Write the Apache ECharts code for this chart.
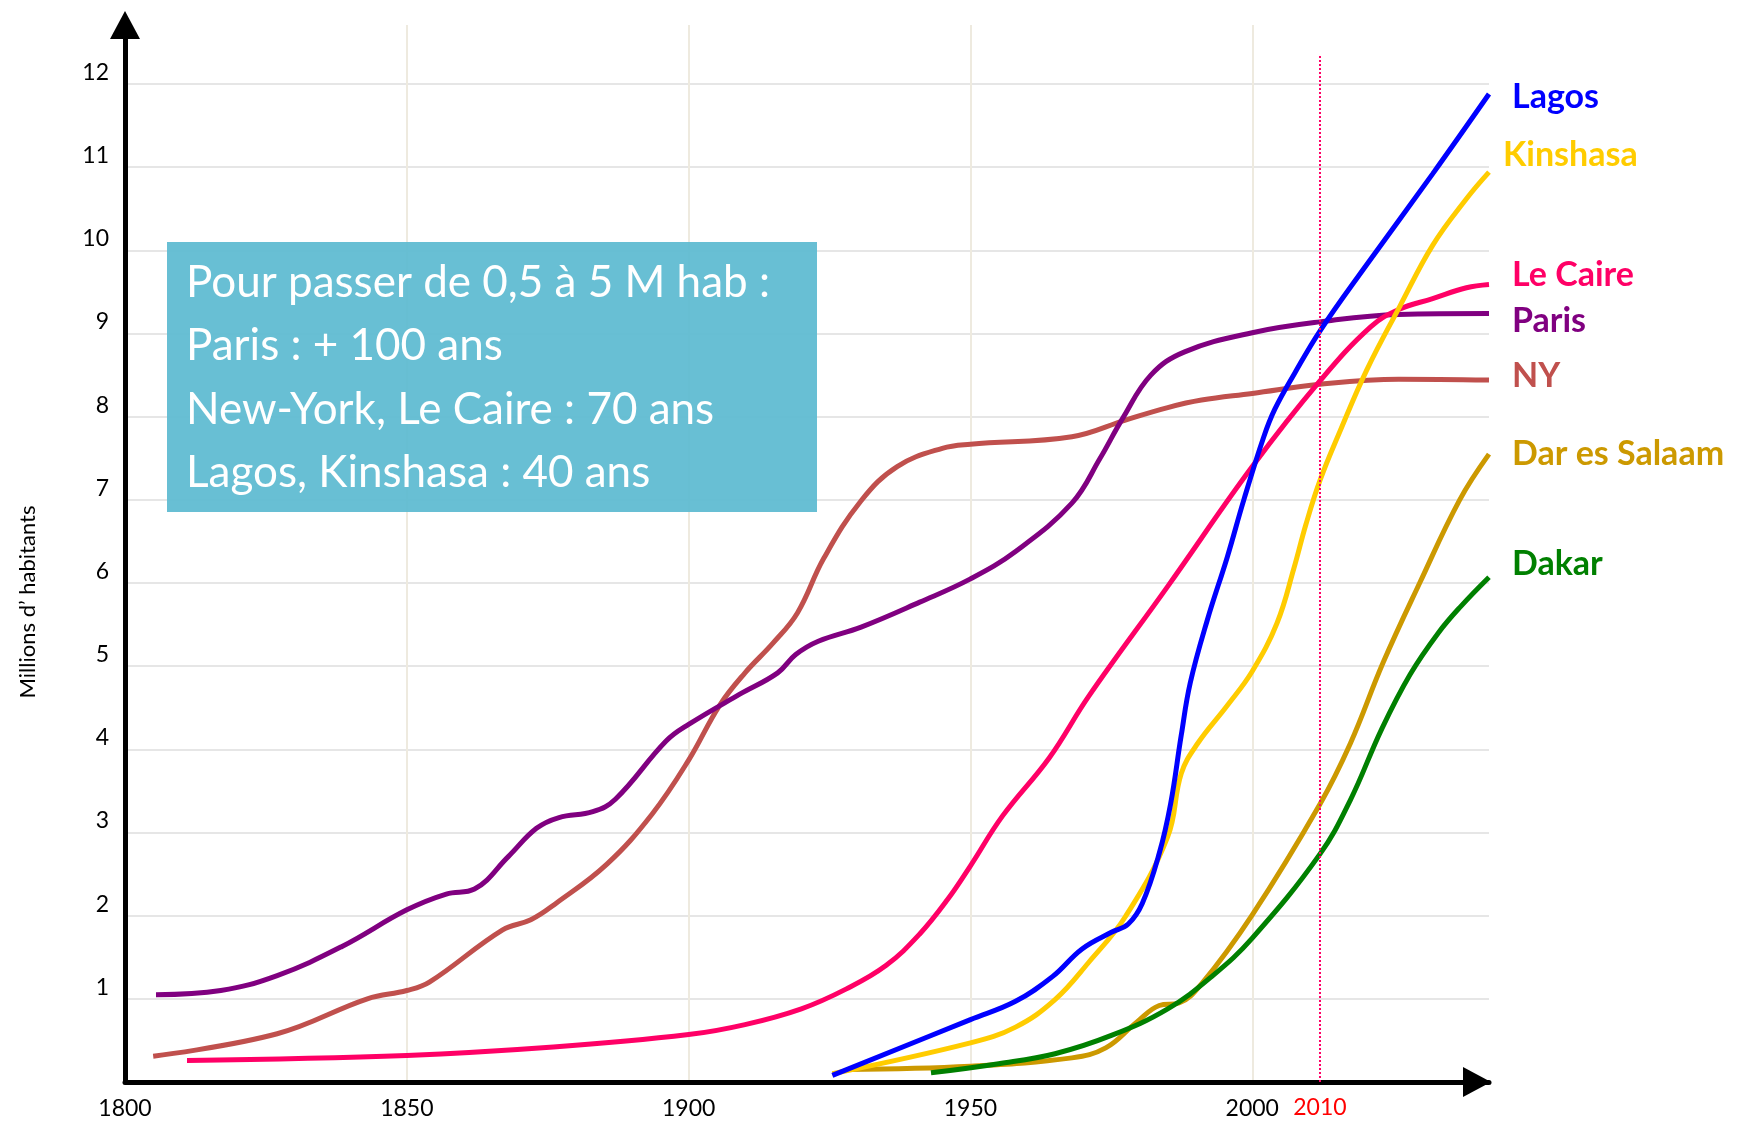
<!DOCTYPE html>
<html>
<head>
<meta charset="utf-8">
<script src="https://cdn.jsdelivr.net/npm/echarts@6/dist/echarts.min.js"></script>
<style>
  html, body { margin: 0; padding: 0; background: #fff; }
  #container { width: 1748px; height: 1124px; }
</style>
</head>
<body>
<div id="container"></div>
<script>
// population (millions) by year
var lagos = [[1925.5,0.08],[1950,0.75],[1958,0.97],[1964.6,1.27],[1969.8,1.6],[1975,1.8],[1978,1.9],[1980.5,2.15],[1983.5,2.75],[1985.5,3.34],[1987.4,4.17],[1989,4.8],[1992,5.55],[1995.6,6.32],[1998.5,7.0],[2002,7.75],[2004,8.09],[2007.5,8.52],[2012,9.03],[2020,9.8],[2032,10.92],[2042,11.88]];
var kinshasa = [[1925.5,0.1],[1950,0.47],[1958,0.66],[1965,0.99],[1971,1.44],[1977.5,1.99],[1985,2.95],[1987.4,3.71],[1990.3,4.07],[1995.6,4.53],[2000,4.94],[2004.4,5.52],[2007.4,6.18],[2009.5,6.7],[2012,7.23],[2015.6,7.83],[2020.3,8.56],[2026.2,9.33],[2032,10.06],[2038,10.62],[2042,10.94]];
var caire = [[1811,0.26],[1850,0.32],[1876,0.42],[1900,0.57],[1910,0.69],[1920,0.88],[1928,1.12],[1935,1.4],[1941,1.78],[1946,2.2],[1950,2.6],[1955.7,3.2],[1964,3.9],[1971,4.64],[1985,5.96],[2000,7.4],[2012,8.43],[2021,9.08],[2026,9.29],[2032,9.42],[2038,9.55],[2042,9.59]];
var paris = [[1805.5,1.05],[1817,1.1],[1827,1.28],[1838.5,1.63],[1850,2.07],[1857,2.26],[1862,2.32],[1868,2.71],[1873,3.05],[1877,3.18],[1883,3.25],[1887,3.4],[1896,4.1],[1900,4.3],[1909,4.66],[1915.8,4.92],[1919,5.14],[1923,5.3],[1930.6,5.47],[1941,5.77],[1950,6.05],[1958,6.38],[1968,6.96],[1973,7.5],[1977,7.98],[1982,8.5],[1988,8.78],[2000,9.01],[2012,9.14],[2026,9.23],[2042,9.24]];
var ny = [[1805,0.31],[1827,0.58],[1843,1.0],[1850,1.1],[1854,1.2],[1867,1.83],[1872,1.95],[1876.5,2.15],[1885.5,2.62],[1893.5,3.22],[1900,3.87],[1905.5,4.53],[1910,4.92],[1915,5.28],[1919.3,5.64],[1924,6.3],[1930.6,6.99],[1937,7.4],[1945,7.62],[1950,7.67],[1968,7.76],[1977.5,7.96],[1985,8.11],[1991,8.2],[2000,8.28],[2012,8.39],[2026,8.45],[2042,8.44]];
var dar = [[1928,0.15],[1950,0.19],[1968,0.29],[1974,0.41],[1979.5,0.72],[1983.5,0.92],[1987,0.95],[1991,1.18],[2000,2.01],[2012,3.34],[2017.4,4.07],[2023.2,5.04],[2029.7,6.0],[2036.8,7.0],[2042,7.55]];
var dakar = [[1943,0.11],[1955,0.22],[1965,0.34],[1975,0.56],[1985,0.88],[1993,1.28],[2000,1.73],[2012,2.74],[2017.4,3.39],[2023,4.25],[2028,4.9],[2033,5.4],[2037,5.72],[2042,6.07]];

var markYear = 2012;      // where the dotted line sits on the axis
var markLabel = '2010';
var noteLines = [
    'Pour passer de 0,5 à 5 M hab :',
    'Paris : + 100 ans',
    'New-York, Le Caire : 70 ans',
    'Lagos, Kinshasa : 40 ans'
];

var font = 'Lato, "Open Sans", sans-serif';

function city(name, data, color, offset){
    return {
        name: name,
        type: 'line',
        data: data,
        smooth: 0.4,
        symbol: 'none',
        clip: false,
        lineStyle: { color: color, width: 5 },
        endLabel: {
            show: true,
            formatter: name,
            color: color,
            fontFamily: font,
            fontWeight: 'bold',
            fontSize: 34,
            distance: 0,
            offset: offset
        }
    };
}

var myChart = echarts.init(document.getElementById('container'));

var laos = city('Lagos', lagos, '#0000FF', [23, 3]);
laos.markLine = {
    symbol: 'none',
    silent: true,
    lineStyle: { color: '#FF0066', type: 'dotted', width: 2 },
    label: {
        show: true,
        position: 'start',
        formatter: markLabel,
        color: '#FF0000',
        fontFamily: font,
        fontSize: 23,
        distance: 14
    },
    data: [[{ coord: [markYear, 0] }, { coord: [markYear, 12.35] }]]
};

var option = {
    animation: false,
    grid: { left: 125, top: 25, width: 1364, height: 1057 },
    xAxis: {
        type: 'value',
        min: 1800,
        max: 2042,
        interval: 50,
        axisLine: {
            lineStyle: { color: '#000', width: 5 },
            symbol: ['none', 'triangle'],
            symbolSize: [30, 28],
            symbolOffset: [0, -12]
        },
        axisTick: { show: false },
        axisLabel: {
            color: '#000',
            fontFamily: font,
            fontSize: 23,
            margin: 15,
            showMaxLabel: false,
            formatter: function(v){ return String(v); }
        },
        splitLine: {
            show: true,
            showMinLine: false,
            showMaxLine: false,
            lineStyle: { color: '#EEEADF', width: 2 }
        }
    },
    yAxis: {
        type: 'value',
        min: 0,
        max: 12.71,
        interval: 1,
        axisLine: {
            show: true,
            lineStyle: { color: '#000', width: 5 },
            symbol: ['none', 'triangle'],
            symbolSize: [30, 28]
        },
        axisTick: { show: false },
        axisLabel: {
            color: '#000',
            fontFamily: font,
            fontSize: 23,
            margin: 16,
            verticalAlign: 'bottom',
            showMaxLabel: false,
            formatter: function(v){ return v === 0 ? '' : String(v); }
        },
        splitLine: {
            show: true,
            showMinLine: false,
            showMaxLine: false,
            lineStyle: { color: '#E6E6E6', width: 2 }
        }
    },
    series: [
        city('NY', ny, '#C0504D', [23, -4]),
        city('Paris', paris, '#800080', [23, 7]),
        city('Le Caire', caire, '#FF0066', [23, -9]),
        city('Dar es Salaam', dar, '#CC9900', [23, 0]),
        city('Dakar', dakar, '#008000', [23, -13]),
        city('Kinshasa', kinshasa, '#FFCC00', [14, -17]),
        laos
    ],
    graphic: [
        {
            type: 'text',
            x: 28, y: 602,
            rotation: Math.PI / 2,
            style: {
                text: 'Millions d’ habitants',
                fill: '#000',
                font: '22px ' + font,
                align: 'center',
                verticalAlign: 'middle'
            }
        },
        {
            type: 'rect',
            shape: { x: 167, y: 242, width: 650, height: 270 },
            style: { fill: 'rgba(92,186,209,0.93)' },
            z: 100
        },
        {
            type: 'text',
            x: 186, y: 251,
            z: 101,
            style: {
                text: noteLines.join('\n'),
                fill: '#fff',
                font: '44px ' + font,
                lineHeight: 63.5
            }
        }
    ]
};

if (option && typeof option === 'object') {
    myChart.setOption(option);
}
</script>
</body>
</html>
